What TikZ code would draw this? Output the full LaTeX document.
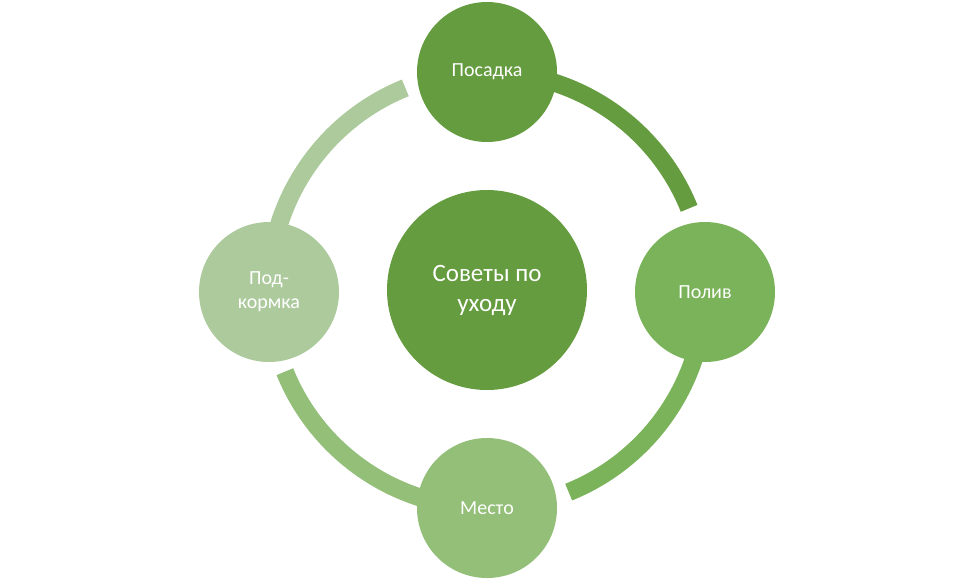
\documentclass[tikz,border=0pt]{standalone}
\usepackage{fontspec}
\setmainfont{Carlito}
\definecolor{cA}{HTML}{659C3F}
\definecolor{cB}{HTML}{7BB35A}
\definecolor{cC}{HTML}{93BF79}
\definecolor{cD}{HTML}{ADCA9D}
\begin{document}
\begin{tikzpicture}[x=1pt,y=-1pt]
\tikzset{ring/.style={line width=18pt},
 sat/.style={circle,minimum size=140pt,inner sep=0pt,text=white,font=\fontsize{20}{24}\selectfont,align=center}}
\useasboundingbox (0,0) rectangle (974,581);
\coordinate (c) at (487,290);
\draw[ring,cA] ([shift={(-90:218)}]c) arc[start angle=-90,end angle=-22,radius=218];
\draw[ring,cB] ([shift={(0:218)}]c) arc[start angle=0,end angle=68,radius=218];
\draw[ring,cC] ([shift={(90:218)}]c) arc[start angle=90,end angle=158,radius=218];
\draw[ring,cD] ([shift={(180:218)}]c) arc[start angle=180,end angle=248,radius=218];
\node[circle,fill=cA,minimum size=200pt,inner sep=0pt,text=white,align=center,font=\fontsize{25}{30}\selectfont] (center) at (c) {Советы по\\уходу};
\node[sat,fill=cA] (top) at (487,72) {Посадка};
\node[sat,fill=cB] (right) at (705,292) {Полив};
\node[sat,fill=cC] (bottom) at (487,508) {Место};
\node[sat,fill=cD] (left) at (269,292) {Под-\\кормка};
\end{tikzpicture}
\end{document}
